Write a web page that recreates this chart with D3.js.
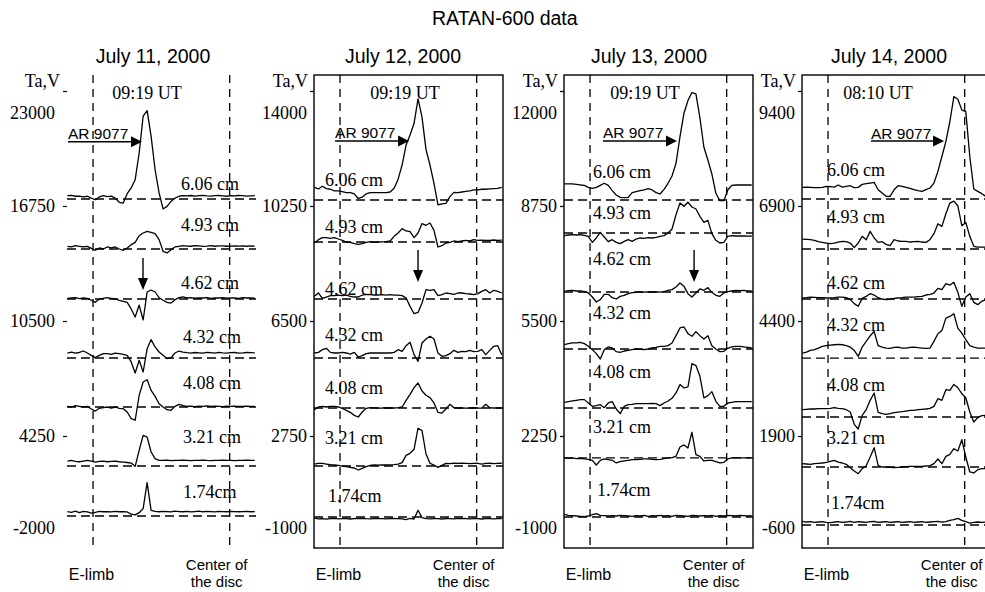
<!DOCTYPE html>
<html><head><meta charset="utf-8">
<script src="https://cdn.jsdelivr.net/npm/d3@7"></script>
<style>body{margin:0;background:#fff}</style>
</head><body><svg id="c" width="985" height="592"></svg>
<script>
// ---------------- DATA ----------------
const title = "RATAN-600 data";
const dates = ["July 11, 2000","July 12, 2000","July 13, 2000","July 14, 2000"];
const times = ["09:19 UT","09:19 UT","09:19 UT","08:10 UT"];
const wavelengths = ["6.06 cm","4.93 cm","4.62 cm","4.32 cm","4.08 cm","3.21 cm","1.74cm"];
const arLabel = "AR 9077";
const tickValues = [
  [23000,16750,10500,4250,-2000],
  [14000,10250,6500,2750,-1000],
  [12000,8750,5500,2250,-1000],
  [9400,6900,4400,1900,-600]
];
// baseline (dashed line) level of each scan, Ta
const baselines = [
  [17130,14413,11696,8489,5826,2620,-98],
  [10446,9076,7217,5293,3663,1771,109],
  [8920,7987,6320,4709,3042,1629,-39],
  [7052,5965,4878,3595,2313,1226,-35]
];
// scan positions (arcsec from disc centre), 48 samples
const scanArcsec = d3.range(-1140, 190, 28);
const limbArcsec = -960, centerArcsec = 0;

// July 11 (deviation from baseline, Ta)
const jul11_606 = [180,200,150,160,110,150,50,-40,110,180,130,160,50,-180,-220,290,600,1050,2500,4500,4800,3400,1590,330,-540,-400,-130,50,150,180,170,190,160,180,200,170,160,180,190,170,150,180,170,190,180,160,170,180];
const jul11_493 = [145,110,180,145,110,145,35,-70,55,0,110,55,110,0,-70,55,235,360,720,870,960,900,830,510,-125,-215,-35,110,145,180,160,150,180,170,145,160,180,150,165,175,150,160,170,155,165,150,170,160];
const jul11_462 = [35,54,70,20,54,35,-70,-180,0,35,70,35,0,-70,-125,-180,-540,-980,-330,-1140,380,490,380,70,-70,-180,-220,-35,70,110,54,70,40,60,54,80,35,60,54,70,45,60,54,35,70,54,60,50];
const jul11_432 = [270,325,270,300,380,270,145,20,145,235,235,200,270,235,200,145,-215,-815,-125,-760,500,1000,600,325,145,-35,20,270,380,325,290,270,300,280,260,300,290,270,310,280,260,290,300,270,280,300,290,280];
const jul11_408 = [35,0,70,35,0,35,-110,-220,-70,-35,0,-55,0,-70,-90,-270,-630,-720,630,1360,1480,900,580,180,0,-145,-180,35,145,70,35,50,20,40,35,60,30,45,35,20,40,35,50,30,35,40,30,35];
const jul11_321 = [270,310,250,230,270,310,270,210,250,270,230,250,270,230,210,190,160,-20,850,1660,1570,760,400,310,300,320,290,310,300,320,310,290,300,310,320,300,290,310,300,320,310,300,290,310,300,320,310,300];
const jul11_174 = [235,200,270,180,250,220,160,200,250,230,240,220,250,230,240,220,100,60,180,400,1810,300,250,230,250,240,220,260,240,230,250,220,240,260,230,250,240,220,250,240,230,250,240,230,240,250,230,240];

// July 12
const jul12_606 = [410,360,450,370,350,300,300,270,240,240,200,50,90,200,240,240,240,240,240,260,380,680,1140,1790,2120,2500,3300,2700,1640,1140,540,-160,-130,-110,110,250,240,260,280,300,330,330,350,350,360,370,380,410];
const jul12_493 = [-33,76,142,142,120,142,98,55,0,-11,-55,-76,-55,-11,10,-10,0,5,11,33,185,294,436,360,338,142,294,600,545,621,381,-163,-120,-33,-11,33,11,33,55,33,76,55,60,50,55,65,55,60];
const jul12_462 = [87,196,22,65,109,109,130,109,130,87,65,65,130,152,140,130,130,140,130,140,130,130,109,33,-240,-480,-436,-130,305,283,305,109,140,196,174,152,196,196,174,163,140,174,250,305,196,283,250,196];
const jul12_432 = [164,185,272,316,185,164,164,185,164,130,185,33,76,142,164,164,164,164,164,164,185,272,218,403,512,109,-109,490,621,708,621,164,55,76,142,250,185,218,207,250,207,218,272,109,250,381,403,109];
const jul12_408 = [-55,33,55,33,55,55,33,-11,-76,-142,-240,-294,-130,-11,11,5,-5,0,8,0,0,11,33,250,447,665,818,556,414,338,164,-142,-164,-33,120,11,0,5,-5,0,8,0,-5,120,11,0,5,0];
const jul12_321 = [65,87,87,65,44,33,22,0,-22,-44,-65,-130,-76,-22,22,33,30,35,33,40,44,65,109,349,414,545,1232,1155,392,87,33,-44,22,87,80,90,87,95,87,80,87,90,60,87,90,80,87,90];
const jul12_174 = [-40,-60,-50,-70,-55,-45,-60,-50,-55,-65,-50,-55,-45,-55,-60,-55,-50,-55,-60,-55,-50,-55,-60,-87,-44,-65,218,-22,-55,-60,-50,-55,-65,-50,-55,-60,-45,-55,-50,-60,-55,-50,-65,-55,-50,-60,-55,-50];

// July 13
const jul13_606 = [453,453,453,443,424,415,358,330,358,415,472,415,264,141,75,66,75,207,236,264,283,320,283,207,170,302,472,679,1037,1792,2452,2810,3036,3000,2320,1490,1131,735,189,-19,-19,283,415,424,424,424,424,424];
const jul13_493 = [-75,-57,-47,-57,-47,-66,-94,-264,-141,19,-113,-245,-189,-264,-302,-236,-189,-236,-170,-141,-151,-132,-141,-123,-94,-75,0,113,519,849,754,868,735,679,472,302,358,-19,-207,-283,-264,-94,-75,-85,-80,-85,-90,-85];
const jul13_462 = [19,38,47,28,28,9,-28,-141,-283,-217,-66,-66,-160,-198,-123,-94,-47,-19,-9,5,-5,0,5,0,-5,9,47,66,141,255,160,-47,-141,-28,85,47,123,-9,-94,-123,-28,9,28,47,38,47,28,28];
const jul13_432 = [123,151,170,170,189,151,75,-19,-132,-283,-19,57,28,-75,-94,-57,-38,-19,0,-9,-19,0,28,47,75,75,94,170,377,594,622,434,358,490,377,283,377,94,0,-75,-66,19,57,75,75,57,47,28];
const jul13_408 = [160,179,198,217,236,236,141,47,66,94,9,141,179,-28,-160,47,94,104,123,123,123,123,132,123,66,141,198,273,424,660,566,594,1254,1198,896,283,349,462,189,47,47,141,160,179,179,179,179,179];
const jul13_321 = [0,-9,0,-19,-9,-28,-38,-66,-198,-66,-28,-47,-66,-141,-104,-85,-66,-47,-47,-38,-28,-28,-38,-47,-38,-19,0,9,47,311,368,283,726,94,47,-85,-66,-66,-104,-141,-123,-28,0,0,0,0,0,0];
const jul13_174 = [75,47,38,28,19,9,28,66,94,47,38,28,38,28,47,38,28,19,38,28,47,19,38,28,47,28,38,19,47,38,28,19,47,38,28,38,28,47,19,38,28,47,38,28,47,38,28,38];

// July 14
const jul14_606 = [253,260,253,246,246,253,275,268,260,304,260,275,289,246,253,318,333,347,362,202,130,58,58,202,289,275,253,231,202,181,166,202,239,347,600,925,1251,1685,2227,2169,1938,1900,925,217,166,116,58,58];
const jul14_493 = [217,210,202,188,159,145,130,116,130,152,166,159,130,29,130,275,202,383,239,145,159,101,72,202,174,166,166,152,159,166,152,145,202,333,549,492,766,998,1041,940,506,578,275,58,43,43,43,43];
const jul14_462 = [22,29,43,36,29,29,22,22,29,43,43,29,-14,-101,-159,14,58,116,87,29,0,-14,-7,14,22,29,43,43,43,51,58,87,101,130,231,202,333,304,362,145,-159,43,116,-72,-123,-51,-14,-14];
const jul14_432 = [108,130,166,181,217,253,268,282,289,296,289,268,239,166,36,239,362,484,578,268,239,217,210,231,239,217,217,231,239,224,217,210,217,362,528,600,868,904,962,651,542,398,268,239,217,217,217,217];
const jul14_408 = [159,166,174,174,181,181,181,188,202,188,181,159,108,-159,-260,36,159,362,521,101,72,58,72,94,108,116,130,145,145,159,166,174,188,231,398,362,593,578,709,636,506,419,108,-108,-14,29,36,36];
const jul14_321 = [72,65,58,72,80,87,101,123,145,108,87,58,-14,-87,-145,-36,29,217,419,29,0,0,-7,-14,-7,0,7,14,14,14,14,22,29,72,174,72,231,275,398,347,593,217,-108,-130,-58,-36,-36,-36];
const jul14_174 = [80,65,72,58,65,72,58,50,65,72,58,65,80,58,72,65,58,72,80,58,65,72,58,65,72,58,65,72,58,65,72,58,65,72,80,65,72,101,116,145,101,72,43,58,65,58,65,72];

// annotations (arcsec, Ta)
const arStart = [-1136,-995,-869,-658];
const arTip   = [-616,-475,-349,-145];
const arLevel = [20245,12370,10587,8313];
const downX   = [-609,-412,-229];
const downTop = [13924,8815,7507];
const downTip = [12184,7771,6602];
const timeX   = [-581,-504,-574,-609];

// ---------------- LAYOUT ----------------
const traces = [
  [jul11_606,jul11_493,jul11_462,jul11_432,jul11_408,jul11_321,jul11_174],
  [jul12_606,jul12_493,jul12_462,jul12_432,jul12_408,jul12_321,jul12_174],
  [jul13_606,jul13_493,jul13_462,jul13_432,jul13_408,jul13_321,jul13_174],
  [jul14_606,jul14_493,jul14_462,jul14_432,jul14_408,jul14_321,jul14_174]
];
const lefts = [67,314,564,802];
const W = 189, TOP = 75, BOT = 548, Y0 = 91, Y4 = 551;
const dateCx = [153,403,649,889];
const labelDx = [[114,114,114,116,116,116,116],[11,11,11,11,11,11,14],[29,29,29,29,29,29,33],[25,25,25,25,25,25,29]];
const labelCy = [
  [184,225,283,337,383,437,492],
  [180,227,289,335,388,438,496],
  [172,213,259,313,372,427,490],
  [170,217,283,325,385,438,503]
];
const serif = "'Liberation Serif','Times New Roman',serif";
const sans = "'Liberation Sans',Arial,sans-serif";

const svg = d3.select("#c");
svg.append("rect").attr("width",985).attr("height",592).attr("fill","#fff");
svg.append("text").attr("x",432).attr("y",25).attr("font-family",sans).attr("font-size",19.5).text(title);

traces.forEach((tr,k)=>{
  const L = lefts[k];
  const x = d3.scaleLinear().domain([-1143,185]).range([L, L+W]);
  const y = d3.scaleLinear().domain([tickValues[k][4], tickValues[k][0]]).range([Y4, Y0]);
  const g = svg.append("g");

  g.append("text").attr("x",dateCx[k]).attr("y",63).attr("text-anchor","middle")
    .attr("font-family",sans).attr("font-size",19.5).text(dates[k]);

  if (k>0) g.append("rect").attr("x",L).attr("y",TOP).attr("width",W).attr("height",BOT-TOP)
    .attr("fill","none").attr("stroke","#000").attr("stroke-width",1.4);

  [limbArcsec, centerArcsec].forEach(v=>{
    g.append("line").attr("x1",x(v)).attr("x2",x(v)).attr("y1",TOP).attr("y2",BOT)
      .attr("stroke","#000").attr("stroke-width",1.3).attr("stroke-dasharray","8,6");
  });

  // axis
  const ax = d3.axisLeft(y).tickValues(tickValues[k]).tickSize(4).tickPadding(k===0?8:3).tickFormat(d=>String(d));
  const ag = g.append("g").attr("transform",`translate(${L},0)`).call(ax);
  ag.select(".domain").remove();
  ag.selectAll(".tick line").attr("stroke","#000").attr("stroke-width",1.2);
  ag.selectAll(".tick text").attr("font-family",serif).attr("font-size",18).attr("fill","#000");
  ag.selectAll(".tick").filter((d,i)=>i===0).select("text").attr("transform","translate(0,22)");
  const last = ag.selectAll(".tick").filter((d,i)=>i===4);
  last.select("line").remove();
  last.select("text").attr("transform","translate(0,-23)");
  ag.attr("font-size",null).attr("font-family",null);

  g.append("text").attr("x",L-(k===0?7:6)).attr("y",87).attr("text-anchor","end")
    .attr("font-family",serif).attr("font-size",18).text("Ta,V");

  // scans
  tr.forEach((vals,j)=>{
    const b = baselines[k][j];
    g.append("line").attr("x1",L).attr("x2",L+W).attr("y1",y(b)).attr("y2",y(b))
      .attr("stroke","#000").attr("stroke-width",1.3).attr("stroke-dasharray","9,5");
    g.append("path").datum(vals)
      .attr("d", d3.line().x((d,i)=>x(scanArcsec[i])).y(d=>y(b+d)))
      .attr("fill","none").attr("stroke","#000").attr("stroke-width",1.3).attr("stroke-linejoin","round");
    g.append("text").attr("x",L+labelDx[k][j]).attr("y",labelCy[k][j]+6)
      .attr("font-family",serif).attr("font-size",18).text(wavelengths[j]);
  });

  // time label
  g.append("text").attr("x",x(timeX[k])).attr("y",99).attr("text-anchor","middle")
    .attr("font-family",serif).attr("font-size",18).text(times[k]);

  // AR arrow
  const ay = y(arLevel[k]), ax0 = x(arStart[k]), ax1 = x(arTip[k]);
  g.append("line").attr("x1",ax0).attr("x2",ax1-10).attr("y1",ay).attr("y2",ay).attr("stroke","#000").attr("stroke-width",1.4);
  g.append("path").attr("d",`M${ax1},${ay} L${ax1-11},${ay-5.5} L${ax1-11},${ay+5.5} Z`).attr("fill","#000");
  g.append("text").attr("x",ax0).attr("y",ay-2.5).attr("font-family",sans).attr("font-size",15.5).text(arLabel);

  // down arrow
  if (k<3) {
    const dx = x(downX[k]), dy0 = y(downTop[k]), dy1 = y(downTip[k]);
    g.append("line").attr("x1",dx).attr("x2",dx).attr("y1",dy0).attr("y2",dy1-10).attr("stroke","#000").attr("stroke-width",1.4);
    g.append("path").attr("d",`M${dx},${dy1} L${dx-5},${dy1-12} L${dx+5},${dy1-12} Z`).attr("fill","#000");
  }

  // bottom labels
  g.append("text").attr("x",x(limbArcsec)-1.5).attr("y",580).attr("text-anchor","middle")
    .attr("font-family",sans).attr("font-size",16).text("E-limb");
  g.append("text").attr("x",x(centerArcsec)-13).attr("y",570).attr("text-anchor","middle")
    .attr("font-family",sans).attr("font-size",15).text("Center of");
  g.append("text").attr("x",x(centerArcsec)-13).attr("y",587).attr("text-anchor","middle")
    .attr("font-family",sans).attr("font-size",15).text("the disc");
});
</script>
</body></html>
